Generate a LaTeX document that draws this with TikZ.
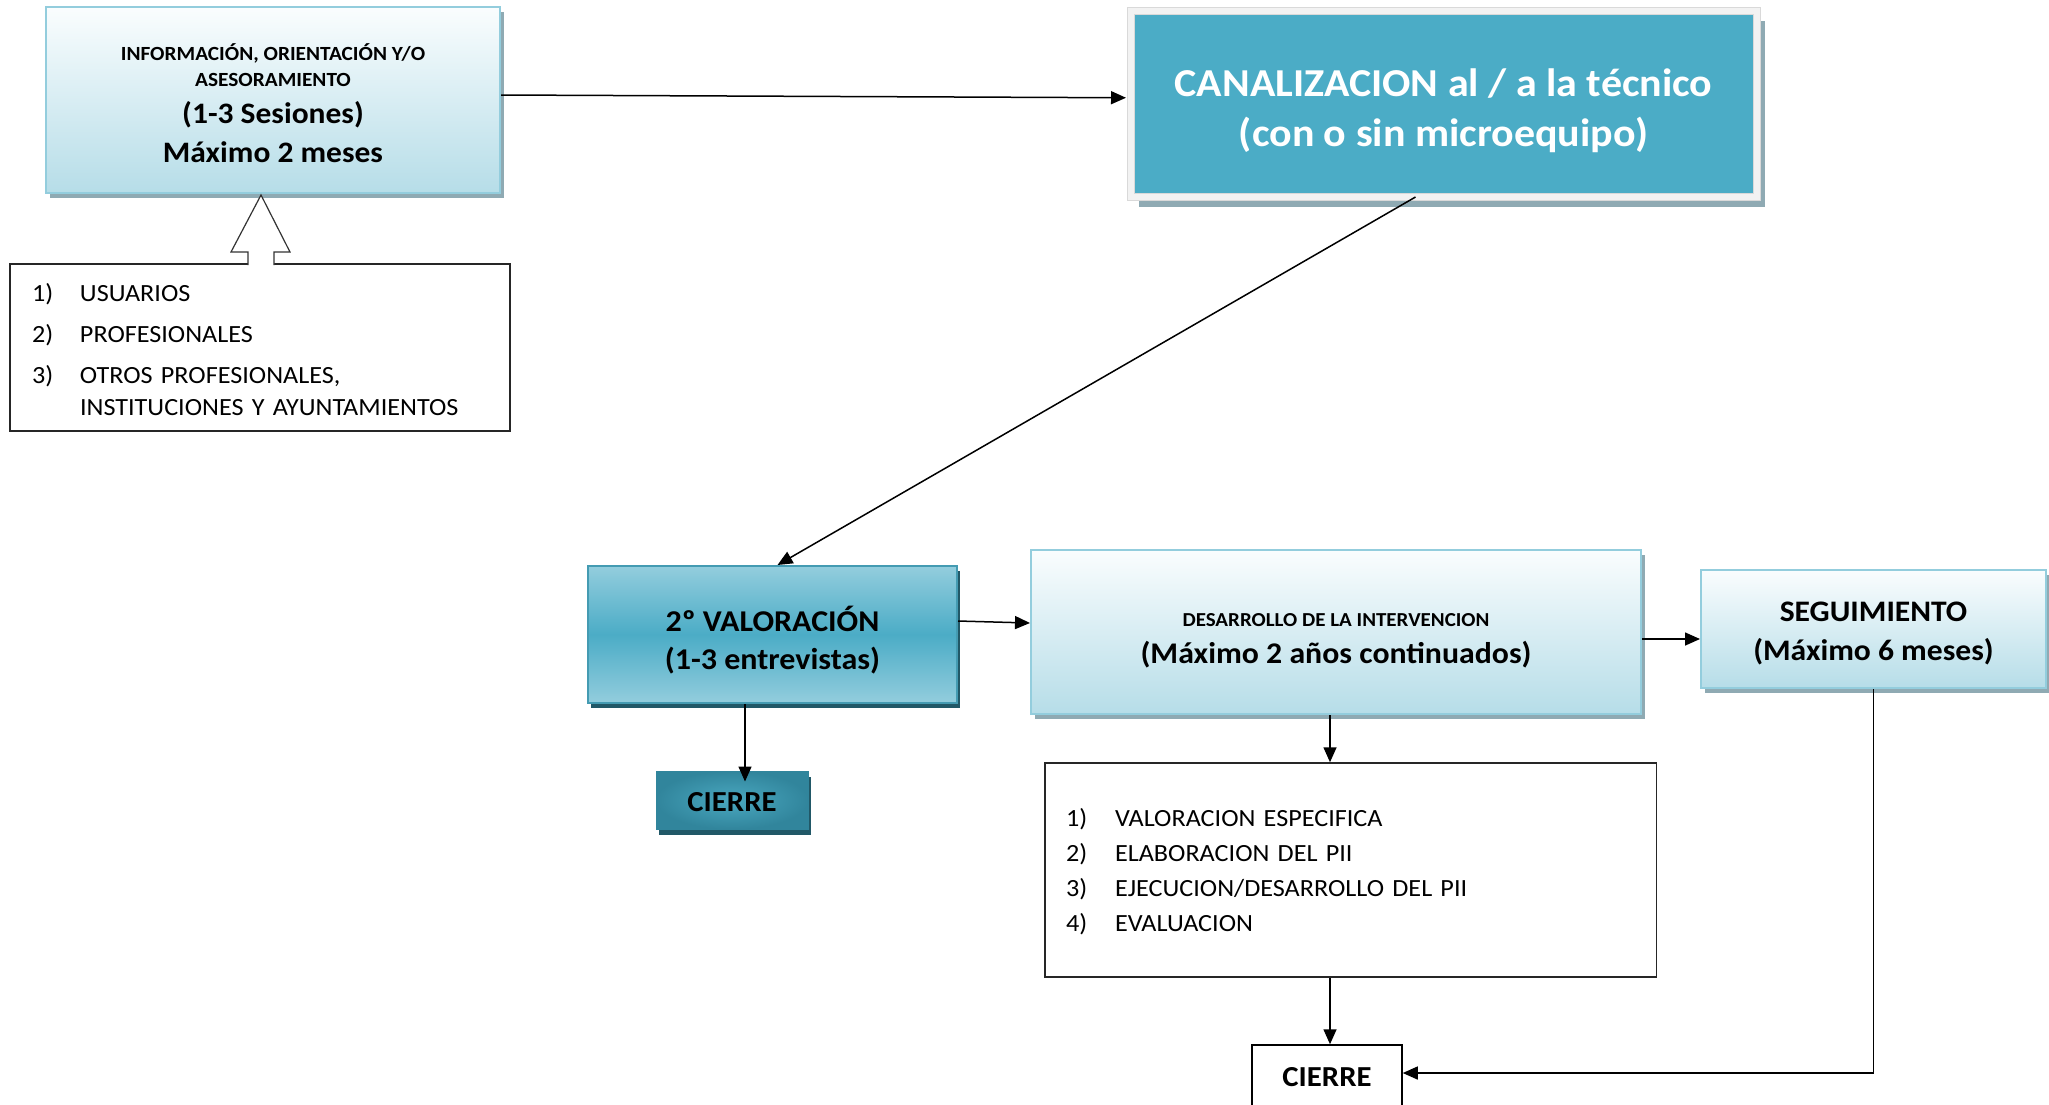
\documentclass[tikz,border=0pt]{standalone}
\usepackage{fontspec}
\setmainfont{Carlito}[FakeStretch=1.06]
\usetikzlibrary{arrows.meta,shadows,calc}

\definecolor{boxline}{HTML}{93CDDD}
\definecolor{lighttop}{HTML}{FAFDFE}
\definecolor{lightbottom}{HTML}{B6DDE8}
\definecolor{paleshadow}{HTML}{8FAAB3}
\definecolor{canalblue}{HTML}{4BACC6}
\definecolor{framegray}{HTML}{F2F2F2}
\definecolor{frameline}{HTML}{D9D9D9}
\definecolor{valmid}{HTML}{4BACC6}
\definecolor{valedge}{HTML}{93CDDD}
\definecolor{darkshadow}{HTML}{215867}
\definecolor{cierredark}{HTML}{31859C}
\definecolor{cierrelight}{HTML}{4AA8C0}

\tikzset{
  lightbox/.style={draw=boxline, line width=2pt, top color=lighttop, bottom color=lightbottom,
    drop shadow={shadow xshift=4pt, shadow yshift=-5pt, fill=paleshadow, opacity=1},
    inner sep=0pt, align=center, text=black},
  canalbox/.style={fill=canalblue, draw=frameline, line width=1pt, double=framegray, double distance=6pt,
    drop shadow={shadow xshift=8pt, shadow yshift=-10pt, fill=paleshadow, opacity=1},
    inner sep=0pt, align=center, text=white},
  valbox/.style={draw=valmid!90!black, line width=2pt, top color=valedge, bottom color=valedge, middle color=valmid,
    drop shadow={shadow xshift=3pt, shadow yshift=-5pt, fill=darkshadow, opacity=1},
    inner sep=0pt, align=center, text=black},
  cierrebox/.style={draw=cierredark, line width=1pt, inner color=cierrelight, outer color=cierredark,
    drop shadow={shadow xshift=3pt, shadow yshift=-6pt, fill=darkshadow, opacity=1},
    inner sep=0pt, text=black},
  listbox/.style={draw=black!85, line width=1.5pt, fill=white, inner ysep=0pt, align=left},
  plainbox/.style={draw=black, line width=1.5pt, fill=white, inner sep=0pt}
}

\begin{document}
\begin{tikzpicture}[x=1pt, y=-1pt, line width=1.5pt, >={Triangle[length=15pt,width=13pt]}]
\useasboundingbox (0,0) rectangle (2049,1104);

\node[lightbox, minimum width=454pt, minimum height=186pt, text height=124.6pt, text depth=0pt,
  font=\bfseries\fontsize{20.1}{44}\selectfont] (info) at (273,100)
  {INFORMACIÓN, ORIENTACIÓN Y/O\\[-18pt]ASESORAMIENTO\\[-6.7pt]{\fontsize{29.7}{35}\selectfont (1-3 Sesiones)}\\[-5pt]{\fontsize{29.7}{35}\selectfont Máximo 2 meses}};
\node[listbox, text width=456pt, inner xsep=22pt, minimum height=167pt, text height=20pt, text depth=111.6pt,
  font=\fontsize{24.7}{31.7}\selectfont] (origen) at (260,347.5)
  {\makebox[48pt][l]{1)}USUARIOS\\[8.9pt]\makebox[48pt][l]{2)}PROFESIONALES\\[9.3pt]\makebox[48pt][l]{3)}OTROS PROFESIONALES,\\\hspace*{48pt}INSTITUCIONES Y AYUNTAMIENTOS};
\node[canalbox, minimum width=626pt, minimum height=185.5pt, text height=95.9pt, text depth=10pt,
  font=\bfseries\fontsize{39.6}{60}\selectfont] (canal) at (1443.5,103.75)
  {CANALIZACION al / a la técnico\\[-10pt](con o sin microequipo)};
\node[valbox, minimum width=369pt, minimum height=137pt, text height=69.6pt, text depth=0pt,
  font=\bfseries\fontsize{30.2}{50}\selectfont] (val) at (772.5,634.5)
  {2º VALORACIÓN\\[-12.4pt](1-3 entrevistas)};
\node[lightbox, minimum width=610pt, minimum height=164pt, text height=62.4pt, text depth=0pt,
  font=\bfseries\fontsize{30}{50}\selectfont] (des) at (1336,632)
  {{\fontsize{19.8}{24}\selectfont DESARROLLO DE LA INTERVENCION}\\[-13.5pt](Máximo 2 años continuados)};
\node[lightbox, minimum width=345pt, minimum height=118pt, text height=63.4pt, text depth=0pt,
  font=\bfseries\fontsize{29.8}{50}\selectfont] (seg) at (1873.5,629)
  {SEGUIMIENTO\\[-10.3pt](Máximo 6 meses)};
\node[cierrebox, minimum width=152pt, minimum height=58pt, text height=23.4pt, text depth=0pt,
  font=\bfseries\fontsize{29}{35}\selectfont] (cierre1) at (732,800) {CIERRE};
\node[listbox, text width=569.5pt, inner xsep=21pt, minimum height=214pt, text height=18pt, text depth=106pt,
  font=\fontsize{24.7}{35.3}\selectfont] (pasos) at (1350.75,870)
  {\makebox[49pt][l]{1)}VALORACION ESPECIFICA\\\makebox[49pt][l]{2)}ELABORACION DEL PII\\\makebox[49pt][l]{3)}EJECUCION/DESARROLLO DEL PII\\\makebox[49pt][l]{4)}EVALUACION};
\node[plainbox, minimum width=150pt, minimum height=65pt, text height=18.4pt, text depth=0pt,
  font=\bfseries\fontsize{29}{35}\selectfont] (cierre2) at (1327,1077.5) {CIERRE};

\coordinate (uptip) at (261,195);
\draw[line width=1.2pt, black!80, fill=white] ($(uptip)+(-13,70)$) -- ($(uptip)+(-13,57)$) -- ($(uptip)+(-30,57)$) -- (uptip)
  -- ($(uptip)+(29,57)$) -- ($(uptip)+(13,57)$) -- ($(uptip)+(13,70)$);

\draw[->] ($(info.east)+(0,-5)$) -- ($(canal.west)+(-4,-6)$);
\draw[->] ($(canal.south)+(-28,0)$) -- ($(val.north)+(5,0)$);
\draw[->] ($(val.east)+(0,-13.5)$) -- ($(des.west)+(0,-9)$);
\draw[->] ($(val.south)+(-27.5,0)$) -- ($(cierre1.north)+(13,11)$);
\draw[->] ($(des.east)+(0,7)$) -- ($(seg.west)+(0,10)$);
\draw[->] ($(des.south)+(-6,0)$) -- ($(pasos.north)+(-20.75,0)$);
\draw[->] ($(pasos.south)+(-20.75,0)$) -- ($(cierre2.north)+(3,0)$);
\draw[->] (seg.south) |- ($(cierre2.east)+(0,-4.5)$);
\end{tikzpicture}
\end{document}
